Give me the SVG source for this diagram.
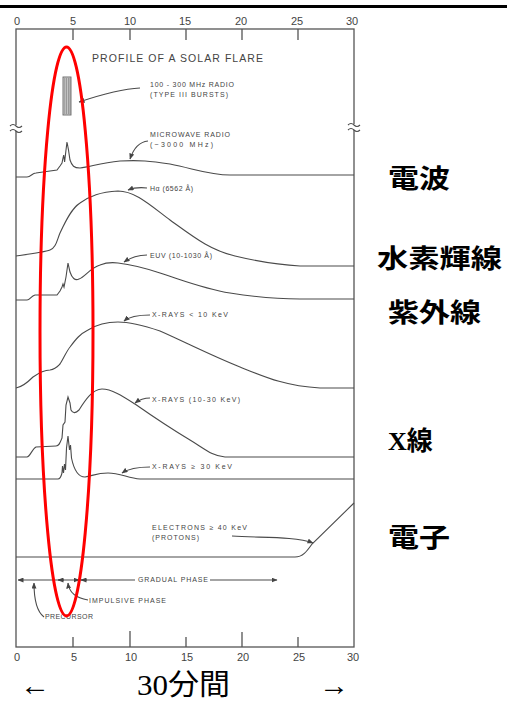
<svg xmlns="http://www.w3.org/2000/svg" width="507" height="702" viewBox="0 0 507 702">
<style>
.ln{fill:none;stroke:#4a4a4a;stroke-width:1.1}
.ax{fill:none;stroke:#555;stroke-width:1.3}
.lb{font-family:"Liberation Sans",Arial,sans-serif;font-size:7px;fill:#444}
.tk{font-family:"Liberation Sans",Arial,sans-serif;font-size:11px;fill:#444;text-anchor:middle}
.jp{font-family:"Noto Sans CJK JP",sans-serif;font-size:26px;font-weight:bold;fill:#000}
.bt{font-family:"Liberation Serif","Noto Sans CJK JP",serif;font-size:29px;fill:#000}
</style>
<defs>
<marker id="ah" viewBox="0 0 6 5" refX="5.5" refY="2.5" markerWidth="6" markerHeight="5" markerUnits="userSpaceOnUse" orient="auto-start-reverse">
<path d="M0,0 L6,2.5 L0,5 z" fill="#444"/>
</marker>
</defs>
<rect width="507" height="702" fill="#fff"/>
<line x1="0" y1="6.5" x2="507" y2="6.5" stroke="#000" stroke-width="3"/>
<g id="frame">
<rect x="16" y="29" width="338" height="618" class="ax"/>
<path class="ax" d="M73,29V40M130,29V40M186,29V40M242,29V40M298,29V40"/>
<path class="ax" d="M73,647V637M130,647V631M186,647V637M242,647V632M298,647V637"/>
<rect x="13" y="125" width="6" height="6" fill="#fff"/>
<rect x="351" y="124" width="6" height="6" fill="#fff"/>
<path class="ln" d="M10,126 q3,-3 6,0 t6,0 M10,131 q3,-3 6,0 t6,0"/>
<path class="ln" d="M348,125 q3,-3 6,0 t6,0 M348,130 q3,-3 6,0 t6,0"/>
<g class="tk">
<text x="17" y="25">0</text><text x="73" y="25">5</text><text x="130" y="25">10</text><text x="185" y="25">15</text><text x="241" y="25">20</text><text x="297" y="25">25</text><text x="352" y="25">30</text>
<text x="17" y="661">0</text><text x="74" y="661">5</text><text x="131" y="661">10</text><text x="187" y="661">15</text><text x="243" y="661">20</text><text x="299" y="661">25</text><text x="353" y="661">30</text>
</g>
<text x="92" y="62" font-family="Liberation Sans,Arial,sans-serif" font-size="10.5" fill="#444" textLength="171" lengthAdjust="spacing">PROFILE OF A SOLAR FLARE</text>
</g>
<g id="radio-burst">
<rect x="63" y="77" width="8" height="38" fill="#d0d0d0" stroke="#666" stroke-width="0.9"/>
<path d="M64.8,78V114M66.6,78V114M68.4,78V114M70,78V114" stroke="#777" stroke-width="0.7"/>
<text class="lb" x="150" y="87" textLength="84" lengthAdjust="spacing">100 - 300 MHz RADIO</text>
<text class="lb" x="150" y="97" textLength="78" lengthAdjust="spacing">(TYPE III BURSTS)</text>
</g>
<g id="microwave">
<path class="ln" d="M16,177 L27,177 C31,177 32,173 36,173 L57,170 L60,166 L62,163 L63,158 L63.7,155 L64.6,162 L66,150 L67,142 L68.5,150 L70,160 C72,166 74,168 80,168 C90,167 100,163 120,161 C140,160 150,161 170,164 C195,169 210,175 230,175 L354,175"/>
<text class="lb" x="150" y="137" textLength="80" lengthAdjust="spacing">MICROWAVE RADIO</text>
<text class="lb" x="150" y="147" textLength="63" lengthAdjust="spacing">(~3000 MHz)</text>
</g>
<g id="h-alpha">
<path class="ln" d="M16,256 C30,254 45,252 50,250 C56,248 57,240 60,233 C66,220 72,208 80,203 C90,196 100,192 118,191 C135,191 150,205 170,220 C195,238 210,250 235,256 C260,262 280,265 300,266 L354,266"/>
<text class="lb" x="150" y="191" textLength="43" lengthAdjust="spacing">Hα (6562 Å)</text>
</g>
<g id="euv">
<path class="ln" d="M16,300 L27,300 C30,300 31,296 35,295 L57,295 L60,291 L62,287 L63,284 L64,287 L66,277 L68,263 L70,272 C72,278 75,281 79,279 C85,277 90,268 100,265 C105,263 110,262 118,263 C135,265 145,268 160,273 C185,281 205,289 230,293 C255,297 275,299 300,299 L354,299"/>
<text class="lb" x="150" y="258" textLength="62" lengthAdjust="spacing">EUV (10-1030 Å)</text>
</g>
<g id="xray-soft">
<path class="ln" d="M16,388 C22,387 28,382 33,377 C40,372 45,370 50,370 C56,369 58,366 60,364 C64,358 66,352 70,347 C76,339 80,334 88,330 C96,325 105,322 118,322 C130,322 145,326 160,331 C185,342 210,355 240,367 C265,377 285,386 320,388 L354,388"/>
<text class="lb" x="152" y="317" textLength="76" lengthAdjust="spacing">X-RAYS &lt; 10 KeV</text>
</g>
<g id="xray-mid">
<path class="ln" d="M16,457 L27,457 C30,457 32,449 36,447 L56,446 C59,446 60,443 62,438 L63,425 L65,422 L66,405 L68,397 L70,403 L71,410 C73,414 76,413 79,410 C84,402 92,389 102,389 C112,389 124,397 135,404 C155,418 170,428 190,440 C205,449 212,456 225,457 L354,457"/>
<text class="lb" x="152" y="402" textLength="88" lengthAdjust="spacing">X-RAYS (10-30 KeV)</text>
</g>
<g id="xray-hard">
<path class="ln" d="M16,479 L58,479 C60,479 61,477 62,473 L62.5,466 L63.5,473 L64.5,464 L65.5,470 L66.5,448 L68,436 L69.5,450 L70.5,445 L71.5,458 C74,470 78,477 85,477 C92,476 97,473 108,473 C120,473 128,478 140,479 L354,479"/>
<text class="lb" x="152" y="469" textLength="80" lengthAdjust="spacing">X-RAYS ≥ 30 KeV</text>
</g>
<g id="electrons">
<path class="ln" d="M16,557 L295,557 C303,557 307,551 312,544 L354,503"/>
<text class="lb" x="152" y="530" textLength="95" lengthAdjust="spacing">ELECTRONS ≥ 40 KeV</text>
<text class="lb" x="152" y="540" textLength="47" lengthAdjust="spacing">(PROTONS)</text>
</g>
<g id="phases">
<text class="lb" x="138" y="582" textLength="70" lengthAdjust="spacing">GRADUAL PHASE</text>
<text class="lb" x="89" y="603" textLength="77" lengthAdjust="spacing">IMPULSIVE PHASE</text>
<text class="lb" x="45" y="619" textLength="48" lengthAdjust="spacing">PRECURSOR</text>
</g>
<g id="connectors">
<path class="ln" d="M140,88 C120,89 100,95 79,102" marker-end="url(#ah)"/>
<path class="ln" d="M148,141 C138,142 133,150 130,159" marker-end="url(#ah)"/>
<path class="ln" d="M147,188 C138,187 133,188 128,190" marker-end="url(#ah)"/>
<path class="ln" d="M147,255 C138,255 130,258 124,262" marker-end="url(#ah)"/>
<path class="ln" d="M150,315 C138,315 130,316 124,321" marker-end="url(#ah)"/>
<path class="ln" d="M150,398 C144,398 139,400 135,403" marker-end="url(#ah)"/>
<path class="ln" d="M150,467 C138,467 128,469 122,473" marker-end="url(#ah)"/>
<path class="ln" d="M232,536 C260,538 295,536 313,543" marker-end="url(#ah)"/>
<path class="ln" d="M18,580 H135" marker-start="url(#ah)"/>
<path class="ln" d="M210,580 H277" marker-end="url(#ah)"/>
<path class="ln" d="M64,580 H58" marker-end="url(#ah)"/>
<path class="ln" d="M74,580 H79" marker-end="url(#ah)"/>
<path class="ln" d="M87,580 H81" marker-end="url(#ah)"/>
<path class="ln" d="M44,617 C36,611 34,598 34,583" marker-end="url(#ah)"/>
<path class="ln" d="M88,600 C76,598 69,592 68,583" marker-end="url(#ah)"/>
</g>
<ellipse id="highlight" cx="66.5" cy="331.5" rx="26.5" ry="284.5" fill="none" stroke="#f00" stroke-width="3"/>
<g id="labels-jp">
<text class="jp" x="388" y="188" textLength="62" lengthAdjust="spacingAndGlyphs">電波</text>
<text class="jp" x="377" y="268" textLength="125" lengthAdjust="spacingAndGlyphs">水素輝線</text>
<text class="jp" x="388" y="322" textLength="93" lengthAdjust="spacingAndGlyphs">紫外線</text>
<text x="388" y="450" font-size="26" font-weight="bold" fill="#000"><tspan font-family="Liberation Serif,serif">X</tspan><tspan font-family="Noto Sans CJK JP,sans-serif">線</tspan></text>
<text class="jp" x="388" y="547" textLength="62" lengthAdjust="spacingAndGlyphs">電子</text>
</g>
<g id="bottom-caption">
<text class="bt" x="20" y="695" textLength="30" lengthAdjust="spacingAndGlyphs">←</text>
<text class="bt" x="137" y="695" textLength="93" lengthAdjust="spacingAndGlyphs">30分間</text>
<text class="bt" x="319" y="695" textLength="30" lengthAdjust="spacingAndGlyphs">→</text>
</g>
</svg>
